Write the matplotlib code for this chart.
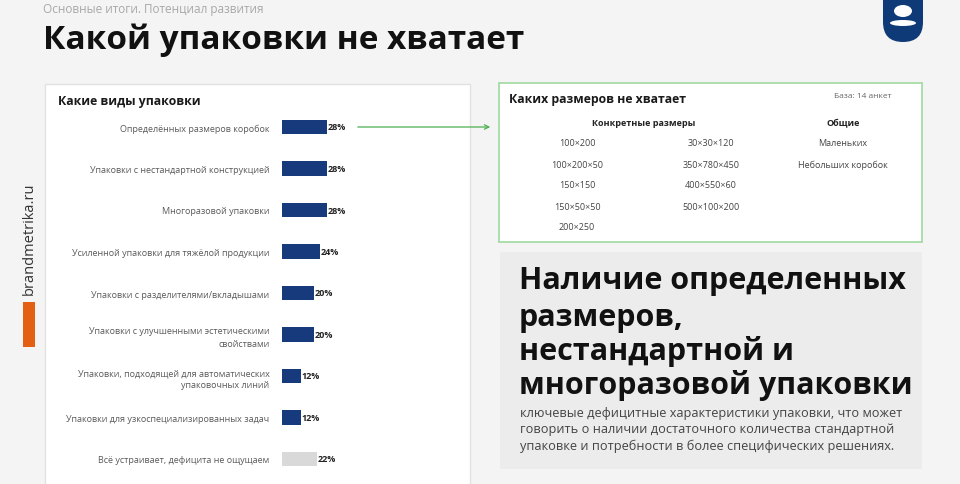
import matplotlib.pyplot as plt
from matplotlib.patches import Rectangle, FancyBboxPatch, FancyArrowPatch, Ellipse

W, H = 960, 485

categories = [
    'Определённых размеров коробок',
    'Упаковки с нестандартной конструкцией',
    'Многоразовой упаковки',
    'Усиленной упаковки для тяжёлой продукции',
    'Упаковки с разделителями/вкладышами',
    'Упаковки с улучшенными эстетическими\nсвойствами',
    'Упаковки, подходящей для автоматических\nупаковочных линий',
    'Упаковки для узкоспециализированных задач',
    'Всё устраивает, дефицита не ощущаем',
]
values = [28, 28, 28, 24, 20, 20, 12, 12, 22]
bar_colors = ['#163a7c'] * 8 + ['#d9d9d9']

sizes_col1 = ['100×200', '100×200×50', '150×150', '150×50×50', '200×250']
sizes_col2 = ['30×30×120', '350×780×450', '400×550×60', '500×100×200']
sizes_general = ['Маленьких', 'Небольших коробок']

headline = ['Наличие определенных', 'размеров,', 'нестандартной и', 'многоразовой упаковки']
note = ['ключевые дефицитные характеристики упаковки, что может',
        'говорить о наличии достаточного количества стандартной',
        'упаковке и потребности в более специфических решениях.']

plt.rcParams['font.family'] = ['Open Sans', 'DejaVu Sans']


def fx(x):
    return x / W


def fy(y):
    return 1 - y / H


def rect(fig, x0, y0, x1, y1, **kw):
    fig.patches.append(Rectangle((fx(x0), fy(y1)), (x1 - x0) / W, (y1 - y0) / H,
                                 transform=fig.transFigure, **kw))


fig = plt.figure(figsize=(W / 100, H / 100), dpi=100)
fig.patch.set_facecolor('#f4f4f4')

# header
fig.text(fx(43), fy(10), 'Основные итоги. Потенциал развития', fontsize=8.5,
         color='#a8a8a8', va='center')
fig.text(fx(43), fy(40), 'Какой упаковки не хватает', fontsize=24, fontweight='bold',
         color='#111111', va='center')

# logo
logo = FancyBboxPatch((883, H - 43), 40, 70, boxstyle='round,pad=0,rounding_size=20',
                      transform=None, facecolor='#0f3a78', edgecolor='none')
fig.patches.append(logo)
fig.patches.append(Ellipse((903, H - 12), 18, 12, transform=None,
                           facecolor='white', edgecolor='none'))
fig.patches.append(Ellipse((903, H - 24), 26, 6, transform=None,
                           facecolor='white', edgecolor='none'))

# side brand
fig.text(fx(29), fy(239), 'brandmetrika.ru', rotation=90, fontsize=10.5, color='#333333',
         ha='center', va='center')
rect(fig, 23, 303, 35, 348, facecolor='#e35f14', edgecolor='none')

# left panel
rect(fig, 45, 85, 470, 490, facecolor='white', edgecolor='#e2e2e2', lw=1)
fig.text(fx(58), fy(101), 'Какие виды упаковки', fontsize=8.8, fontweight='bold',
         color='#1a1a1a', va='center')

ax = fig.add_axes([fx(282), fy(480.75), 160 / W, 373.5 / H])
ax.set_zorder(3)
ypos = list(range(len(categories)))
ax.barh(ypos, values, height=0.34, color=bar_colors)
for y, v in zip(ypos, values):
    ax.text(v + 0.3, y, f'{v}%', fontsize=6.5, fontweight='bold', color='#222222',
            va='center', ha='left')
ax.set_xlim(0, 100)
ax.set_ylim(len(categories) - 0.5, -0.5)
ax.set_yticks(ypos)
ax.set_yticklabels(categories, fontsize=6.5, color='#5a5a5a', linespacing=1.5)
ax.tick_params(axis='y', length=0, pad=9)
ax.set_xticks([])
ax.patch.set_alpha(0)
for s in ax.spines.values():
    s.set_visible(False)

# arrow to sizes box
fig.patches.append(FancyArrowPatch((fx(355), fy(128)), (fx(493), fy(128)),
                                   transform=fig.transFigure, arrowstyle='->',
                                   mutation_scale=8, color='#4caf50', lw=0.9))

# sizes box
rect(fig, 499, 84, 922, 243, facecolor='white', edgecolor='#9fd89f', lw=1.2)
fig.text(fx(509), fy(100), 'Каких размеров не хватает', fontsize=8.8, fontweight='bold',
         color='#1a1a1a', va='center')
fig.text(fx(834), fy(97), 'База: 14 анкет', fontsize=6, color='#666666', va='center')
fig.text(fx(644), fy(124), 'Конкретные размеры', fontsize=6.5, fontweight='bold',
         color='#222222', ha='center', va='center')
fig.text(fx(843), fy(124), 'Общие', fontsize=6.5, fontweight='bold',
         color='#222222', ha='center', va='center')
row_y = [144, 165, 186, 207, 228]
for s, y in zip(sizes_col1, row_y):
    fig.text(fx(577), fy(y), s, fontsize=6.5, color='#444444', ha='center', va='center')
for s, y in zip(sizes_col2, row_y):
    fig.text(fx(711), fy(y), s, fontsize=6.5, color='#444444', ha='center', va='center')
for s, y in zip(sizes_general, row_y):
    fig.text(fx(843), fy(y), s, fontsize=6.5, color='#444444', ha='center', va='center')

# conclusion box
rect(fig, 500, 253, 922, 470, facecolor='#ececec', edgecolor='none')
for line, y in zip(headline, [281, 318, 352, 386]):
    fig.text(fx(519), fy(y), line, fontsize=22, fontweight='bold', color='#111111',
             va='center')
for line, y in zip(note, [414, 430, 446]):
    fig.text(fx(520), fy(y), line, fontsize=9.2, color='#444444', va='center')

fig.savefig('out.png', dpi=100, facecolor=fig.get_facecolor())
